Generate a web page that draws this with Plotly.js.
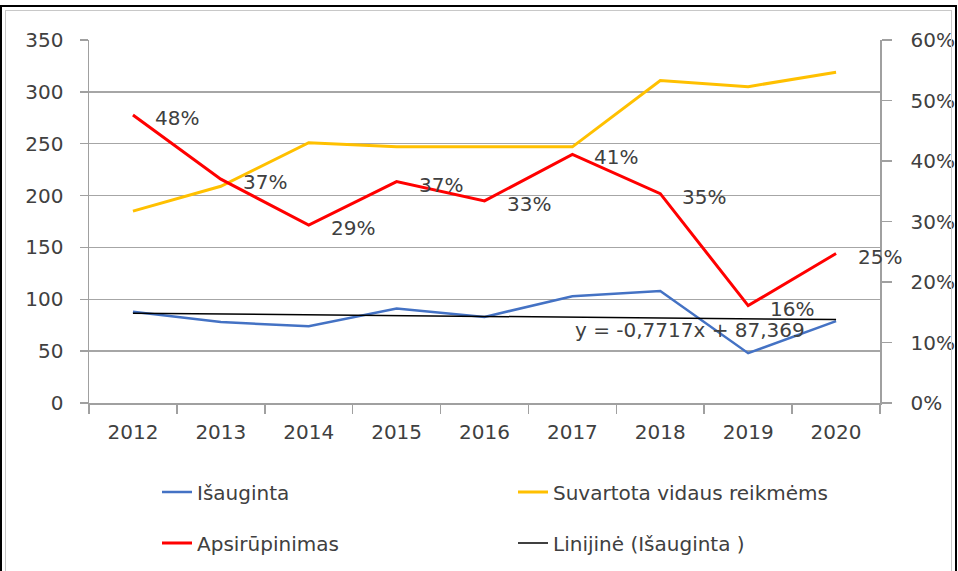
<!DOCTYPE html>
<html>
<head>
<meta charset="utf-8">
<script src="https://cdn.plot.ly/plotly-3.0.1.min.js"></script>
<style>
  html, body { margin: 0; padding: 0; background: #fff; }
  #wrap { position: relative; width: 958px; height: 571px; overflow: hidden; }
  #chart { position: absolute; left: 0; top: 0; width: 958px; height: 571px; }
  #frame { position: absolute; left: 0; top: 5px; width: 953px; height: 620px;
           border: 2px solid #000; pointer-events: none; }
  #frame2 { position: absolute; left: 3px; top: 3px; right: 3px; bottom: 3px;
            border: 1px solid #c8c8c8; }
</style>
</head>
<body>
<div id="wrap">
  <div id="chart"></div>
  <div id="frame"><div id="frame2"></div></div>
</div>
<script>
// ---- data ----
var years = ["2012", "2013", "2014", "2015", "2016", "2017", "2018", "2019", "2020"];
var isauginta = [88, 78, 74, 91, 83, 103, 108, 48, 79];
var suvartota = [185, 209, 251, 247, 247, 247, 311, 305, 319];
var apsirupinimas = [0.476, 0.37, 0.294, 0.366, 0.334, 0.411, 0.346, 0.161, 0.247];
var apsirupinimasLabels = ["48%", "37%", "29%", "37%", "33%", "41%", "35%", "16%", "25%"];
var trendYears = ["2012", "2020"];
var trendValues = [86.6, 80.4];
var trendLabel = "y = -0,7717x + 87,369";
var seriesNames = ["Išauginta", "Suvartota vidaus reikmėms", "Apsirūpinimas", "Linijinė (Išauginta )"];

var FONT = "DejaVu Sans, Verdana, sans-serif";
var TXT = "#404040";

var traces = [
  { x: years, y: isauginta, name: seriesNames[0], type: "scatter", mode: "lines",
    line: { color: "#4472C4", width: 2.5 }, legend: "legend", hoverinfo: "skip" },
  { x: years, y: suvartota, name: seriesNames[1], type: "scatter", mode: "lines",
    line: { color: "#FFC000", width: 3 }, legend: "legend", hoverinfo: "skip" },
  { x: trendYears, y: trendValues, name: seriesNames[3], type: "scatter", mode: "lines",
    line: { color: "#000000", width: 1.5 }, legend: "legend2", legendrank: 2, hoverinfo: "skip" },
  { x: years, y: apsirupinimas, name: seriesNames[2], type: "scatter", mode: "lines",
    yaxis: "y2", line: { color: "#FF0000", width: 3 }, legend: "legend2", legendrank: 1, hoverinfo: "skip" }
];

var annotations = years.map(function (yr, i) {
  return {
    x: i, y: apsirupinimas[i], xref: "x", yref: "y2",
    text: apsirupinimasLabels[i],
    showarrow: false, xanchor: "left", yanchor: "middle",
    xshift: 20, yshift: -3,
    font: { family: FONT, size: 20, color: TXT }
  };
});
annotations.push({
  x: 6.34, y: 70.5, xref: "x", yref: "y",
  text: trendLabel, showarrow: false, xanchor: "center", yanchor: "middle",
  font: { family: FONT, size: 20, color: TXT }
});

var legendCommon = {
  orientation: "h", xref: "container", yref: "container",
  xanchor: "left", yanchor: "middle",
  font: { family: FONT, size: 20, color: TXT },
  bgcolor: "rgba(0,0,0,0)", borderwidth: 0,
  entrywidth: 311, entrywidthmode: "pixels", traceorder: "normal"
};

var layout = {
  width: 958, height: 571,
  margin: { l: 89, r: 78, t: 40, b: 168 },
  paper_bgcolor: "#ffffff", plot_bgcolor: "#ffffff",
  font: { family: FONT, size: 20, color: TXT },
  showlegend: true,
  legend: Object.assign({}, legendCommon, { x: 157 / 958, y: 1 - 492 / 571 }),
  legend2: Object.assign({}, legendCommon, { x: 157 / 958, y: 1 - 543 / 571 }),
  xaxis: {
    type: "category", range: [-0.5, 8.5],
    showgrid: false, zeroline: false,
    showline: true, linecolor: "#a0a0a0", linewidth: 1.5,
    ticks: "outside", tickson: "boundaries", ticklen: 9, tickcolor: "#a0a0a0", tickwidth: 1.5,
    ticklabelstandoff: 10,
    tickfont: { family: FONT, size: 20, color: TXT }
  },
  yaxis: {
    range: [0, 350], dtick: 50, tick0: 0,
    showgrid: true, gridcolor: "#a6a6a6", gridwidth: 1.5, zeroline: false,
    showline: true, linecolor: "#a0a0a0", linewidth: 1.5,
    ticks: "outside", ticklen: 8, tickcolor: "#a0a0a0", tickwidth: 1.5,
    ticklabelstandoff: 12,
    tickfont: { family: FONT, size: 20, color: TXT }
  },
  yaxis2: {
    overlaying: "y", side: "right", range: [0, 0.6], dtick: 0.1, tick0: 0,
    tickformat: ".0%", showgrid: false, zeroline: false,
    showline: true, linecolor: "#a0a0a0", linewidth: 1.5,
    ticks: "outside", ticklen: 10, tickcolor: "#a0a0a0", tickwidth: 1.5,
    ticklabelstandoff: 15,
    tickfont: { family: FONT, size: 20, color: TXT }
  },
  annotations: annotations
};

Plotly.newPlot("chart", traces, layout, { staticPlot: true, displayModeBar: false });
</script>
</body>
</html>
